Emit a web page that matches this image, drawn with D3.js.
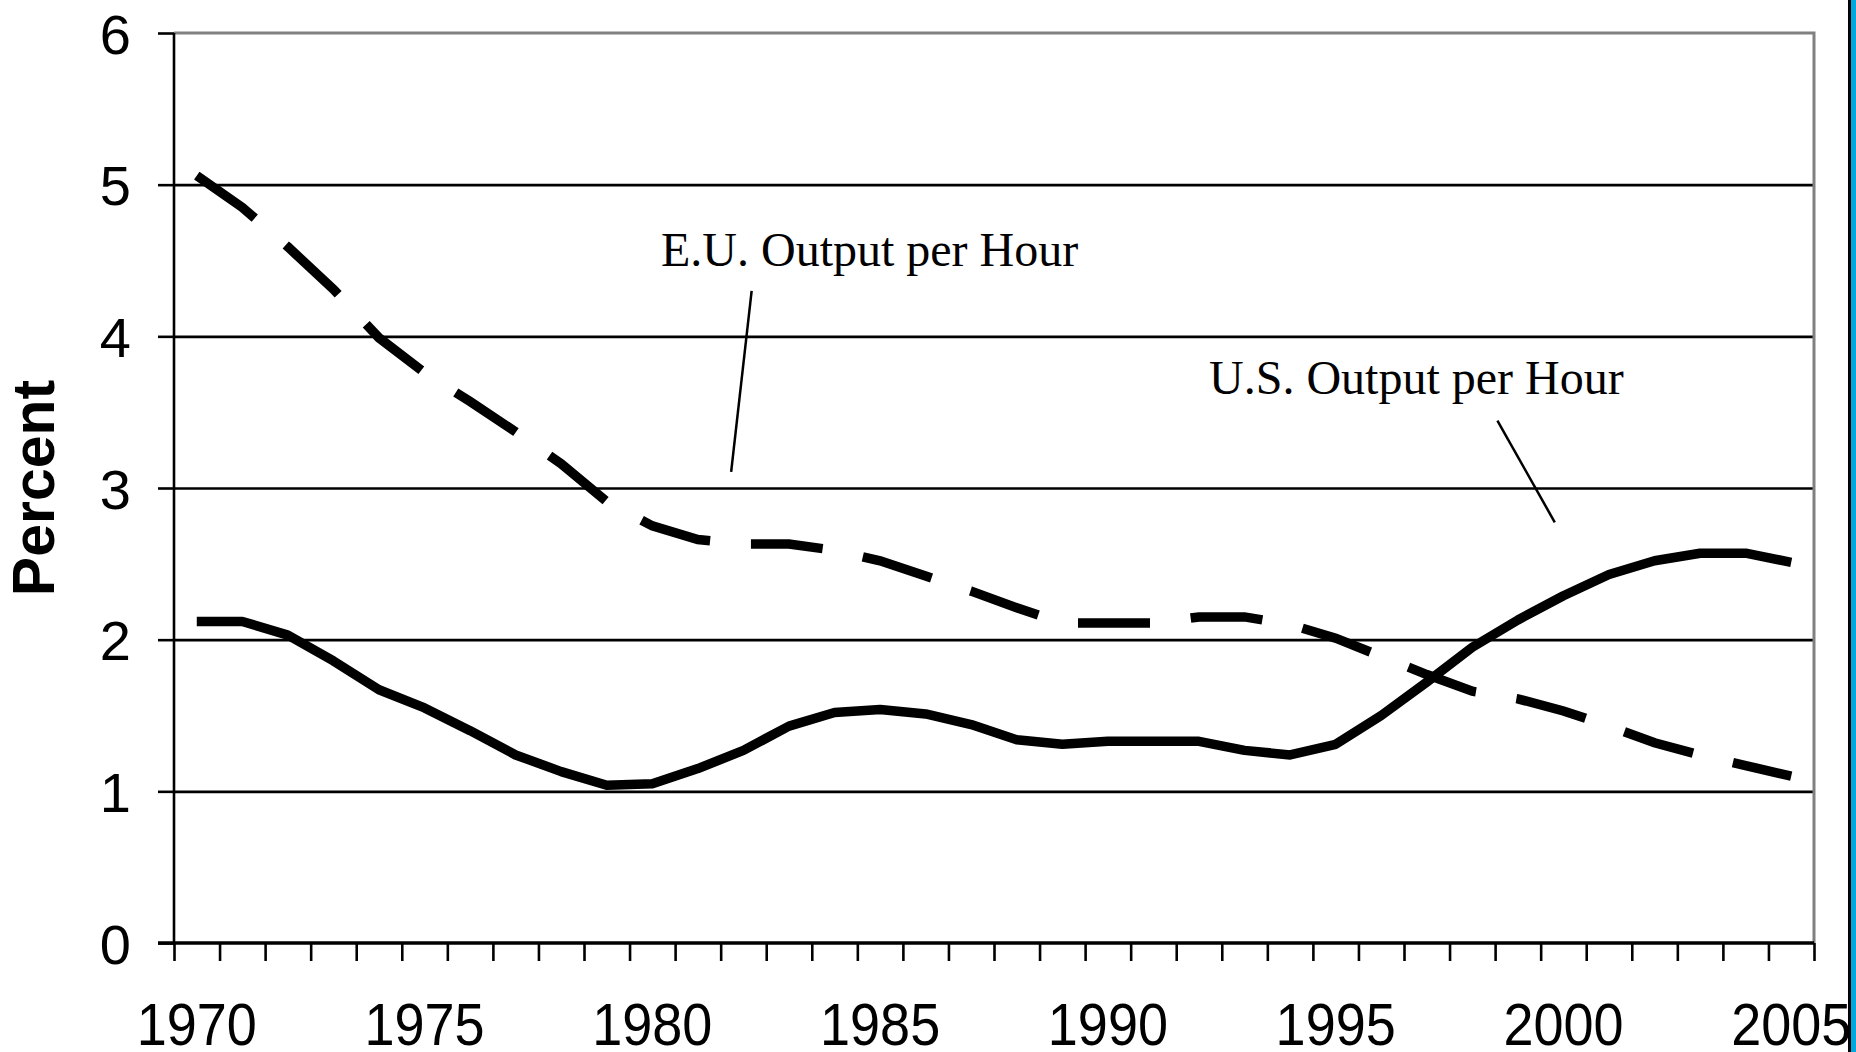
<!DOCTYPE html>
<html>
<head>
<meta charset="utf-8">
<script src="https://cdn.jsdelivr.net/npm/d3@7/dist/d3.min.js"></script>
<style>
  body { margin: 0; background: #fff; }
  svg { display: block; }
</style>
</head>
<body>
<svg id="chart" width="1856" height="1052"></svg>
<script>

const years = [1970, 1971, 1972, 1973, 1974, 1975, 1976, 1977, 1978, 1979,
               1980, 1981, 1982, 1983, 1984, 1985, 1986, 1987, 1988, 1989,
               1990, 1991, 1992, 1993, 1994, 1995, 1996, 1997, 1998, 1999,
               2000, 2001, 2002, 2003, 2004, 2005]

const usOutput = [2.12, 2.12, 2.03, 1.86, 1.67, 1.55, 1.40, 1.24, 1.13, 1.04,
                  1.05, 1.15, 1.27, 1.43, 1.52, 1.54, 1.51, 1.44, 1.34, 1.31,
                  1.33, 1.33, 1.33, 1.27, 1.24, 1.31, 1.50, 1.72, 1.95, 2.13,
                  2.29, 2.43, 2.52, 2.57, 2.57, 2.51]

const euOutput = [5.06, 4.85, 4.59, 4.31, 3.99, 3.76, 3.57, 3.37, 3.16, 2.91,
                  2.75, 2.66, 2.63, 2.63, 2.59, 2.52, 2.42, 2.32, 2.21, 2.11,
                  2.11, 2.11, 2.15, 2.15, 2.10, 2.01, 1.89, 1.77, 1.66, 1.61,
                  1.53, 1.43, 1.32, 1.24, 1.17, 1.10]

const yTicks = [0, 1, 2, 3, 4, 5, 6]
const gridValues = [1, 2, 3, 4, 5]
const xLabelYears = [1970, 1975, 1980, 1985, 1990, 1995, 2000, 2005]

// annotation text anchors and leader lines, in (year edge, percent) units
const notes = [
    { text: 'E.U. Output per Hour', x: 1980.69, y: 4.464, line: [[1982.68, 4.30], [1982.23, 3.107]] },
    { text: 'U.S. Output per Hour', x: 1992.72, y: 3.62, line: [[1999.05, 3.444], [2000.31, 2.774]] }
]

const svg = d3.select('#chart')

const m = { left: 174, right: 1814, top: 33, bottom: 943 }
const plotW = m.right - m.left

// x measured on category edges: year n occupies [n, n + 1]
const x = d3.scaleLinear().domain([1970, 2006]).range([m.left, m.right])
const y = d3.scaleLinear().domain([0, 6]).range([m.bottom, m.top])

const xc = yr => x(yr + 0.5)

svg.append('rect').attr('width', 1856).attr('height', 1052).attr('fill', '#fff')

// grid
const grid = svg.append('g').attr('transform', `translate(${m.left},0)`)
    .call(d3.axisLeft(y).tickValues(gridValues).tickSize(-plotW).tickFormat(''))
grid.select('.domain').remove()
grid.selectAll('.tick line').attr('stroke', '#000').attr('stroke-width', 2.6)

// plot border top / right
svg.append('path')
    .attr('d', `M${m.left},${m.top}H${m.right}V${m.bottom}`)
    .attr('fill', 'none')
    .attr('stroke', '#808080')
    .attr('stroke-width', 3)

// y axis
const yg = svg.append('g').attr('transform', `translate(${m.left},0)`)
    .call(d3.axisLeft(y).tickValues(yTicks).tickSize(16).tickPadding(27).tickFormat(d3.format('d')))
yg.select('.domain').attr('stroke', '#000').attr('stroke-width', 2.6).attr('d', `M0,${m.top}V${m.bottom}`)
yg.selectAll('.tick line').attr('stroke', '#000').attr('stroke-width', 2.6)
yg.selectAll('.tick text')
    .attr('font-family', 'Liberation Sans, Arial, sans-serif')
    .attr('font-size', 56)
    .attr('fill', '#000')
    .attr('dy', '0.36em')

// x axis: minor ticks on every category edge
const xg = svg.append('g').attr('transform', `translate(0,${m.bottom})`)
    .call(d3.axisBottom(x).tickValues(d3.range(1970, 2007)).tickSize(18).tickFormat(''))
xg.select('.domain').attr('stroke', '#000').attr('stroke-width', 3.6).attr('d', `M${m.left - 16},0H${m.right}`)
xg.selectAll('.tick line').attr('stroke', '#000').attr('stroke-width', 2.6)

// x labels centred on categories, slightly tall like the source
svg.append('g').selectAll('text')
    .data(xLabelYears)
    .join('text')
    .attr('transform', d => `translate(${xc(d)},1045) scale(1,1.08)`)
    .attr('text-anchor', 'middle')
    .attr('font-family', 'Liberation Sans, Arial, sans-serif')
    .attr('font-size', 54)
    .attr('fill', '#000')
    .text(d => d)

// y title
svg.append('text')
    .attr('transform', `translate(54,${(m.top + m.bottom) / 2}) rotate(-90)`)
    .attr('text-anchor', 'middle')
    .attr('font-family', 'Liberation Sans, Arial, sans-serif')
    .attr('font-weight', 'bold')
    .attr('font-size', 59)
    .attr('fill', '#000')
    .text('Percent')

// series
const line = d3.line().x((d, i) => xc(years[i])).y(d => y(d))

svg.append('path')
    .datum(euOutput)
    .attr('d', line)
    .attr('fill', 'none')
    .attr('stroke', '#000')
    .attr('stroke-width', 9.5)
    .attr('stroke-dasharray', '72,41')
    .attr('stroke-linejoin', 'miter')

svg.append('path')
    .datum(usOutput)
    .attr('d', line)
    .attr('fill', 'none')
    .attr('stroke', '#000')
    .attr('stroke-width', 9.5)
    .attr('stroke-linejoin', 'round')

// annotations
const ann = svg.append('g')
ann.selectAll('text')
    .data(notes)
    .join('text')
    .attr('x', d => x(d.x))
    .attr('y', d => y(d.y))
    .attr('font-family', 'Liberation Serif, Times New Roman, serif')
    .attr('font-size', 48)
    .attr('fill', '#000')
    .text(d => d.text)

ann.selectAll('path')
    .data(notes)
    .join('path')
    .attr('d', d => d3.line().x(p => x(p[0])).y(p => y(p[1]))(d.line))
    .attr('stroke', '#000')
    .attr('stroke-width', 2.5)
    .attr('fill', 'none')

// right page edge
svg.append('rect').attr('x', 1848).attr('y', 0).attr('width', 3).attr('height', 1052).attr('fill', '#000')
svg.append('rect').attr('x', 1851).attr('y', 0).attr('width', 5).attr('height', 1052).attr('fill', '#00a9de')

</script>
</body>
</html>
